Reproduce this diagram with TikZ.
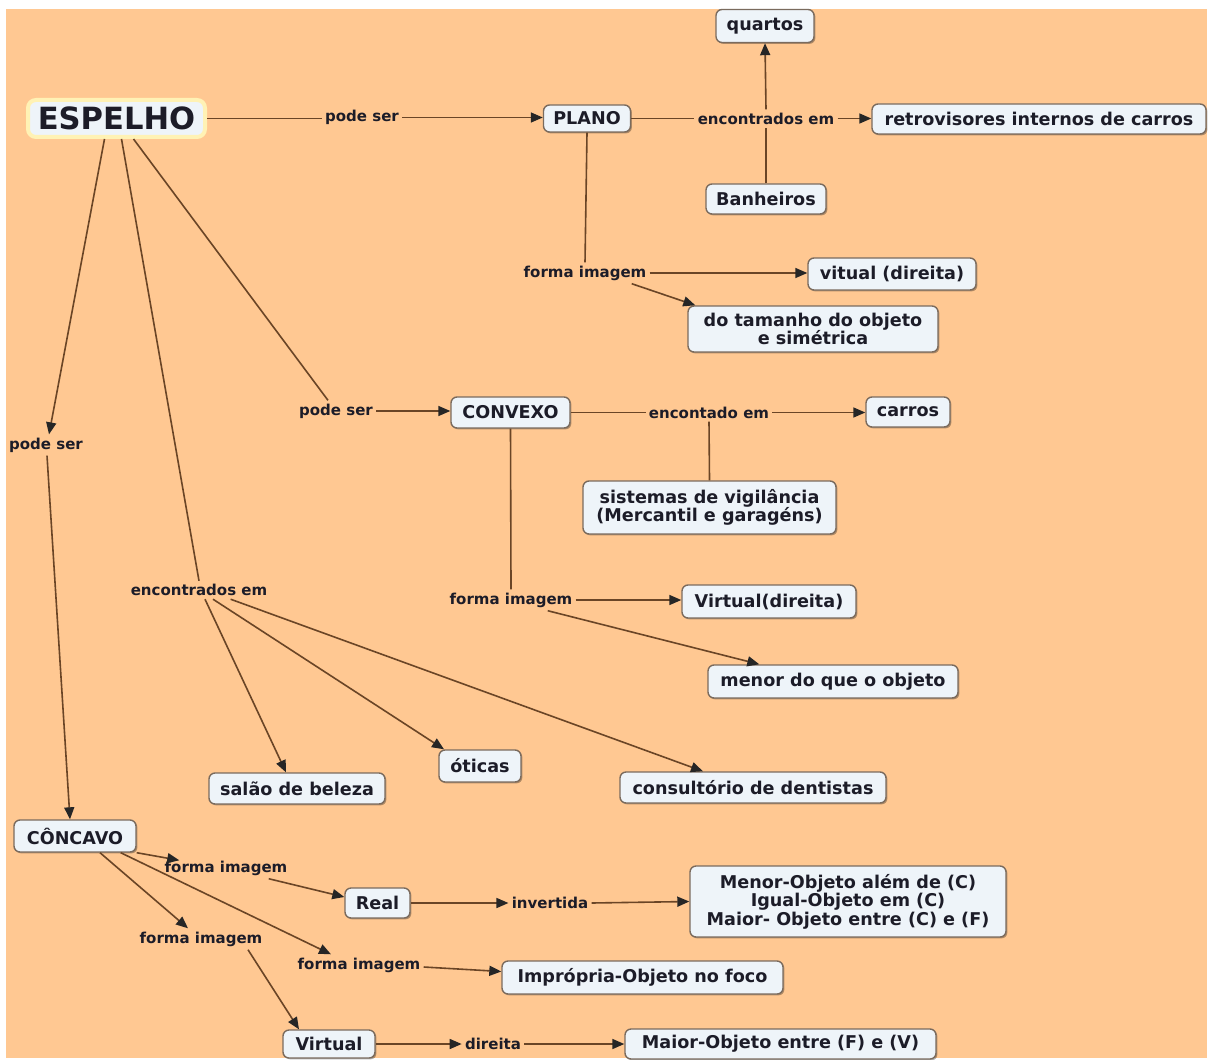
\documentclass[tikz,border=0pt]{standalone}
\usepackage{fontspec}
\setmainfont{DejaVu Sans}
\usetikzlibrary{arrows.meta,calc,shadows}
\definecolor{bgpeach}{HTML}{FFC892}
\definecolor{boxfill}{HTML}{EEF4F9}
\definecolor{boxline}{HTML}{7A6B5E}
\definecolor{linkline}{HTML}{6A4526}
\definecolor{inkdark}{HTML}{1C1C28}
\definecolor{glow}{HTML}{FFF2B5}
\begin{document}
\begin{tikzpicture}[x=0.5pt,y=-0.5pt,
  concept/.style={draw=boxline, line width=0.7pt, fill=boxfill, rounded corners=3pt,
    inner sep=0pt, align=center, text=inkdark,
    font=\bfseries\fontsize{8.8}{9.2}\selectfont,
    drop shadow={shadow xshift=0.7pt, shadow yshift=-0.7pt, opacity=0.3, fill=black}},
  linkph/.style={inner sep=1.5pt, text=inkdark, font=\bfseries\fontsize{7.5}{8}\selectfont},
  link/.style={draw=linkline, line width=0.8pt},
  arr/.style={link, -{Triangle[length=6pt,width=5pt,color=black!85]}}
]
% canvas
\useasboundingbox (0,0) rectangle (1208,1059);
\fill[white] (0,0) rectangle (1208,1059);
\fill[bgpeach] (6,9) rectangle (1207,1058);

% main concept
\node[draw=glow, line width=2pt, fill=boxfill, rounded corners=4pt, inner sep=0pt,
      minimum width=88.5pt, minimum height=18.5pt, text=inkdark,
      font=\bfseries\fontsize{15.3}{16}\selectfont] (esp) at (116.5,118.5) {ESPELHO};

% concepts
\node[concept, minimum width=43.5pt, minimum height=13.5pt] (plano) at (587,118.5) {PLANO};
\node[concept, minimum width=49pt, minimum height=16.5pt] (quartos) at (765,26) {quartos};
\node[concept, minimum width=167pt, minimum height=15pt] (retro) at (1039,119) {retrovisores internos de carros};
\node[concept, minimum width=60pt, minimum height=15pt] (banh) at (766,199) {Banheiros};
\node[concept, minimum width=84pt, minimum height=16pt] (vitual) at (892,274) {vitual (direita)};
\node[concept, minimum width=125pt, minimum height=23pt] (dotam) at (813,329) {do tamanho do objeto\\e simétrica};
\node[concept, minimum width=59.5pt, minimum height=15.5pt] (convexo) at (510.5,412.5) {CONVEXO};
\node[concept, minimum width=42pt, minimum height=15pt] (carros) at (908,412) {carros};
\node[concept, minimum width=126.5pt, minimum height=26.5pt] (vig) at (709.5,507.5) {sistemas de vigilância\\(Mercantil e garagéns)};
\node[concept, minimum width=87pt, minimum height=16.5pt] (virt1) at (769,601.5) {Virtual(direita)};
\node[concept, minimum width=125pt, minimum height=16.5pt] (menor) at (833,681.5) {menor do que o objeto};
\node[concept, minimum width=88pt, minimum height=15.5pt] (salao) at (297,788.5) {salão de beleza};
\node[concept, minimum width=41pt, minimum height=16pt] (oticas) at (480,766) {óticas};
\node[concept, minimum width=133pt, minimum height=15.5pt] (consult) at (753,787.5) {consultório de dentistas};
\node[concept, minimum width=61pt, minimum height=16pt] (concavo) at (75,836) {CÔNCAVO};
\node[concept, minimum width=32.5pt, minimum height=15pt] (real) at (377.5,903) {Real};
\node[concept, minimum width=158pt, minimum height=35.5pt] (menorc) at (848,901.5) {Menor-Objeto além de (C)\\Igual-Objeto em (C)\\Maior- Objeto entre (C) e (F)};
\node[concept, minimum width=140.5pt, minimum height=16.5pt] (impr) at (642.5,977.5) {Imprópria-Objeto no foco};
\node[concept, minimum width=46pt, minimum height=14pt] (virtual) at (329,1044) {Virtual};
\node[concept, minimum width=155.5pt, minimum height=15pt] (maior) at (780.5,1044) {Maior-Objeto entre (F) e (V)};

% linking phrases
\node[linkph] (ps1) at (362,117.5) {pode ser};
\node[linkph] (em1) at (766,118.5) {encontrados em};
\node[linkph] (fi1) at (585,273) {forma imagem};
\node[linkph] (ps2) at (336,411) {pode ser};
\node[linkph] (enc) at (709,412.5) {encontado em};
\node[linkph] (fi2) at (511,600) {forma imagem};
\node[linkph] (ps3) at (46,445) {pode ser};
\node[linkph] (em2) at (199,590) {encontrados em};
\node[linkph] (fi3) at (226,868) {forma imagem};
\node[linkph] (fi4) at (201,939) {forma imagem};
\node[linkph] (fi5) at (359,965) {forma imagem};
\node[linkph] (inv) at (550,903) {invertida};
\node[linkph] (dir) at (493,1044) {direita};

% PLANO branch
\draw[link] (esp.east) -- (esp.east -| ps1.west);
\draw[arr] (ps1.east) -- (ps1.east -| plano.west);
\draw[link] (plano.east) -- (plano.east -| em1.west);
\draw[arr] (em1.east) -- (em1.east -| retro.west);
\draw[link] (banh.north) -- (em1.south);
\draw[arr] (em1.north) -- (quartos.south);
\draw[link] (plano.south) -- (fi1.north);
\draw[arr] (fi1.east) -- (fi1.east -| vitual.west);
\draw[arr] ($(fi1.south east)+(-18,0)$) -- ($(dotam.north west)+(8,0)$);

% CONVEXO branch
\draw[link] ($(esp.south)+(17,0)$) -- ($(ps2.north)+(-8,0)$);
\draw[arr] (ps2.east) -- (ps2.east -| convexo.west);
\draw[link] (convexo.east) -- (convexo.east -| enc.west);
\draw[arr] (enc.east) -- (enc.east -| carros.west);
\draw[link] (vig.north) -- (enc.south);
\draw[link] (convexo.south) -- (fi2.north);
\draw[arr] (fi2.east) -- (fi2.east -| virt1.west);
\draw[arr] ($(fi2.south east)+(-28,0)$) -- ($(menor.north west)+(52,0)$);

% places
\draw[link] ($(esp.south)+(5,0)$) -- (em2.north);
\draw[arr] ($(em2.south)+(6,0)$) -- ($(salao.north)+(-11,0)$);
\draw[arr] ($(em2.south)+(14,0)$) -- ($(oticas.north)+(-36,0)$);
\draw[arr] ($(em2.south east)+(-40,0)$) -- ($(consult.north)+(-50,0)$);

% CÔNCAVO branch
\draw[arr] ($(esp.south)+(-12,0)$) -- ($(ps3.north)+(3,0)$);
\draw[arr] ($(ps3.south)+(1,0)$) -- ($(concavo.north)+(-5,0)$);
\draw[arr] (concavo.south east) -- ($(fi3.north west)+(18,3)$);
\draw[arr] ($(fi3.south east)+(-22,0)$) -- ($(real.west)+(0,-6)$);
\draw[arr] ($(concavo.south)+(25,0)$) -- ($(fi4.north)+(-13,0)$);
\draw[arr] ($(fi4.south)+(47,0)$) -- ($(virtual.north)+(-30,0)$);
\draw[arr] ($(concavo.south east)+(-16,0)$) -- ($(fi5.north)+(-28,0)$);
\draw[arr] ($(fi5.east)+(0,2)$) -- ($(impr.west)+(0,-6)$);
\draw[arr] (real.east) -- (real.east -| inv.west);
\draw[arr] (inv.east) -- (menorc.west);
\draw[arr] (virtual.east) -- (virtual.east -| dir.west);
\draw[arr] (dir.east) -- (dir.east -| maior.west);
\end{tikzpicture}
\end{document}
